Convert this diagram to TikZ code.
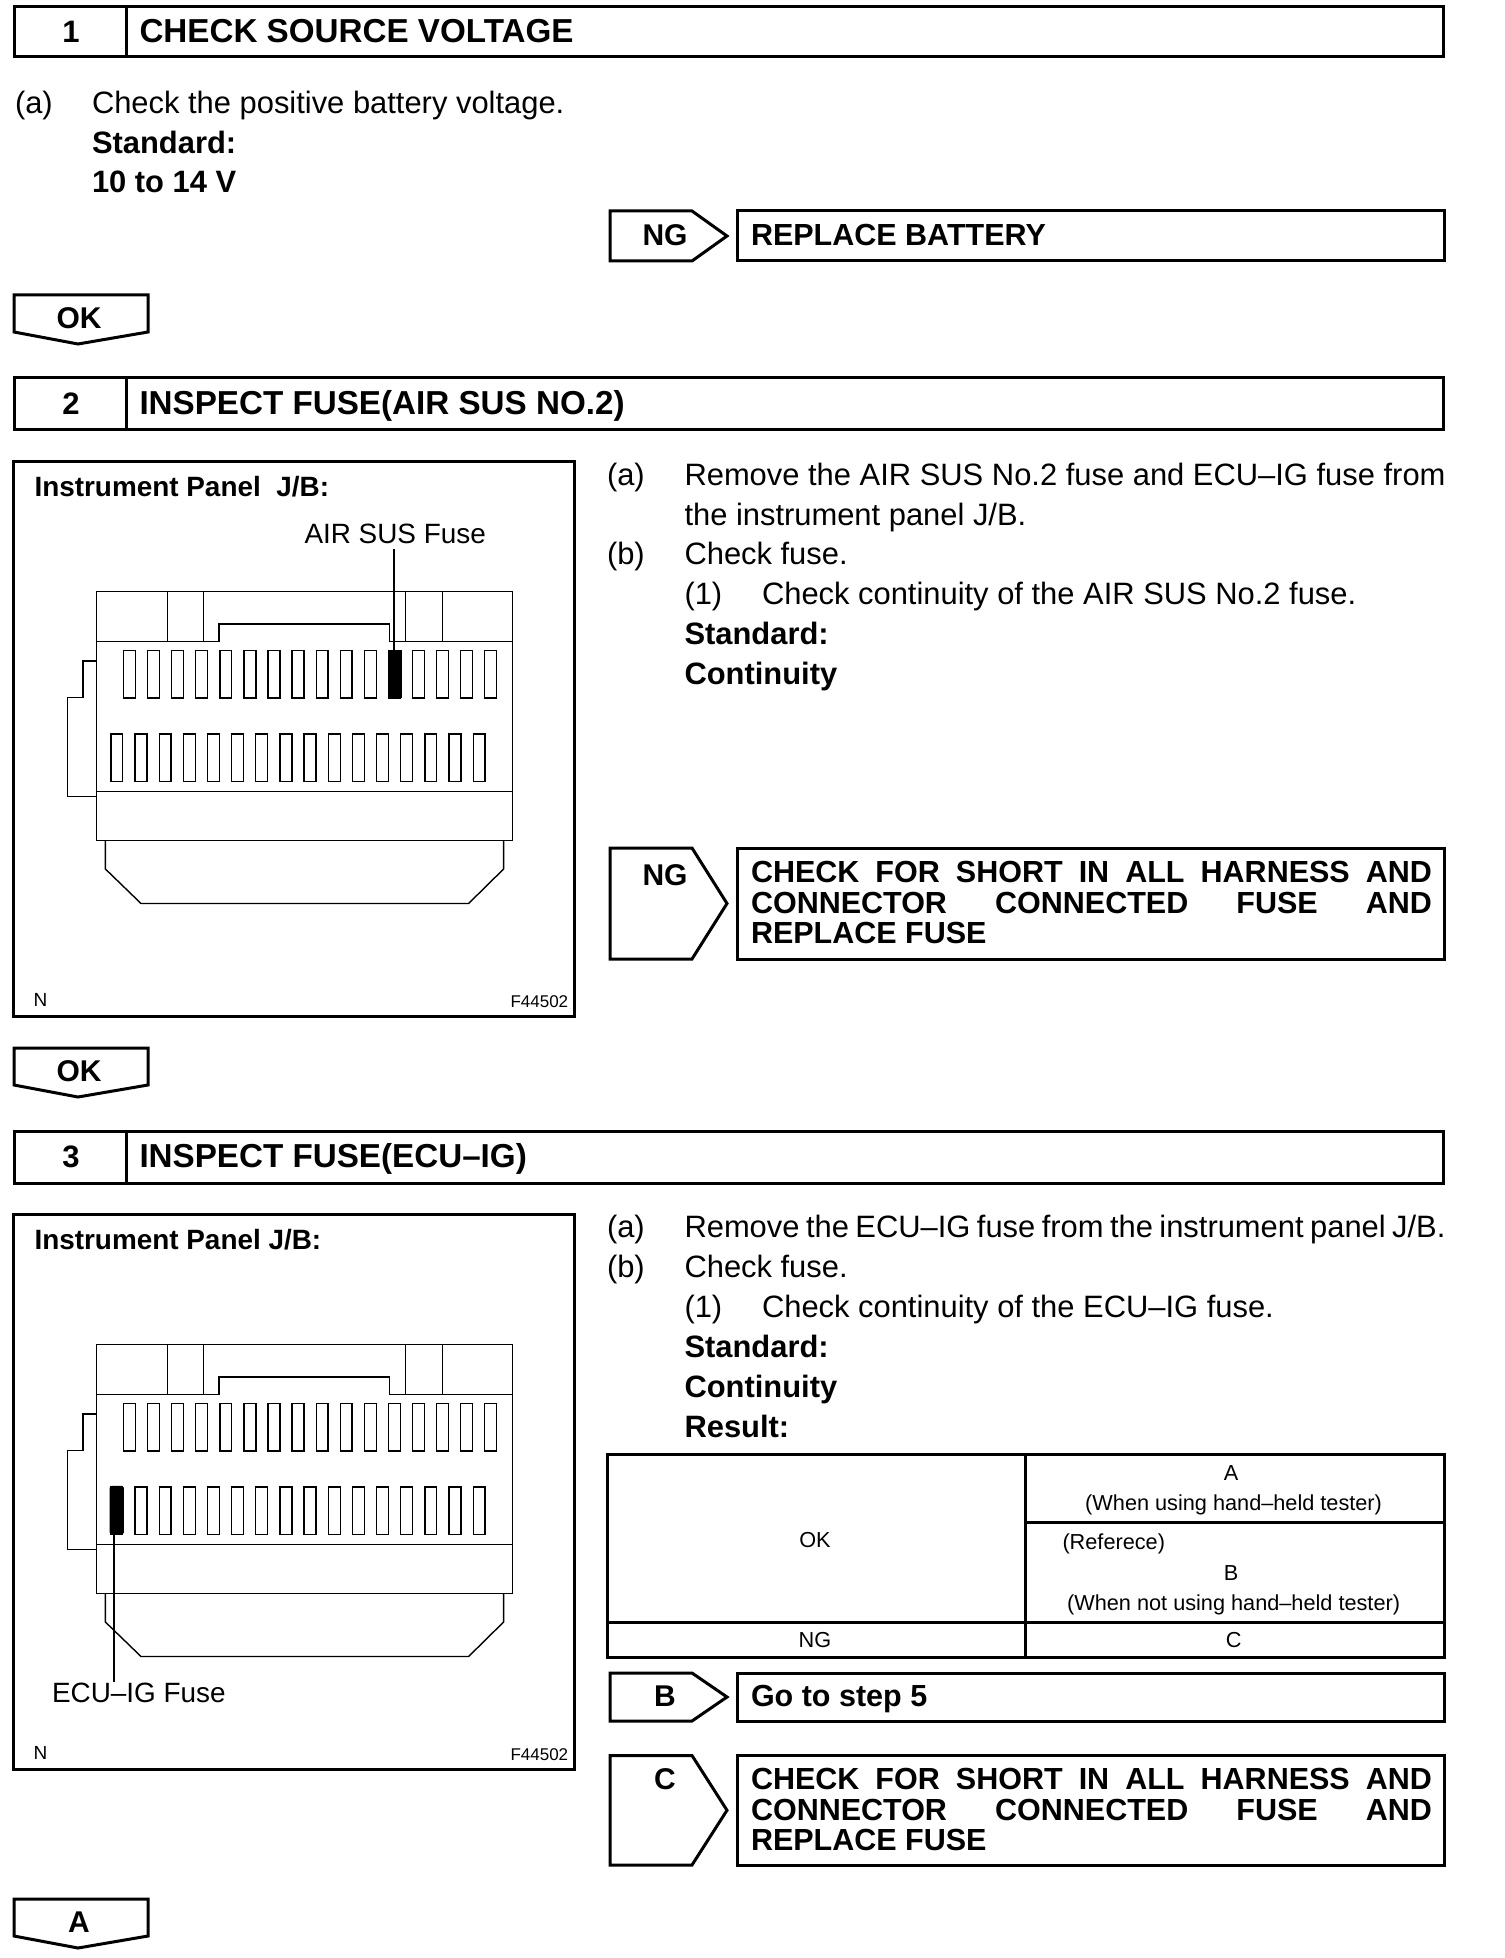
\documentclass[tikz,border=0pt]{standalone}
\usepackage{fontspec}
\setmainfont{Liberation Sans}
\newcommand\fsz[1]{\fontsize{#1pt}{#1pt}\selectfont}
\tikzset{
  heavy/.style={draw=black,line width=3pt,line join=miter},
  thin line/.style={draw=black,line width=1.4pt},
  fusebox/.style={draw=black,line width=1.3pt,minimum width=11.9pt,minimum height=47.3pt,inner sep=0pt,outer sep=0pt,anchor=north west},
  blackfuse/.style={fill=black,minimum width=13pt},
  lab/.style={inner sep=0pt,outer sep=0pt,anchor=base west,text=black},
  labc/.style={inner sep=0pt,outer sep=0pt,anchor=base,text=black},
  body/.style={lab,font=\fsz{30.9}},
  bbody/.style={lab,font=\fsz{30.9}\bfseries},
  head/.style={lab,font=\fsz{33.2}\bfseries},
  headnum/.style={labc,font=\fsz{31}\bfseries},
  tagtxt/.style={labc,font=\fsz{30}\bfseries},
  boxtxt/.style={lab,font=\fsz{30.5}\bfseries},
  cell/.style={labc,font=\fsz{21.7}},
  panelbold/.style={lab,font=\fsz{27.9}\bfseries},
  panellab/.style={lab,font=\fsz{27.9}},
  small/.style={lab,font=\fsz{19}},
  tiny/.style={lab,font=\fsz{17}},
}
% step header: name, top y, bottom y, number, title, baseline
\newcommand\stephead[6]{%
  \draw[heavy] (14,#2) rectangle (1443.5,#3);
  \draw[heavy] (126,#2) -- (126,#3);
  \node[headnum] (#1n) at (71,#6) {#4};
  \node[head] (#1t) at (139.5,#6) {#5};
}
% OK-type tag: name, top y, text
\newcommand\downtag[3]{%
  \draw[heavy] (14,#2) -- (148,#2) -- (148,#2+37) -- (78,#2+49) -- (14,#2+37) -- cycle;
  \node[tagtxt] (#1) at (79,#2+33) {#3};
}
% side tag: name, top, bottom, text, baseline
\newcommand\sidetag[5]{%
  \draw[heavy] (610,#2) -- (692,#2) -- (727,{(#2+#3)/2}) -- (692,#3) -- (610,#3) -- cycle;
  \draw[heavy] (737,#2) rectangle (1444,#3);
  \node[tagtxt] (#1) at (665,#5) {#4};
}
% three-line result box text
\newcommand\shortbox[2]{%
  \node[boxtxt] (#1a) at (751,#2+34) {\makebox[681pt][s]{CHECK FOR SHORT IN ALL HARNESS AND}};
  \node[boxtxt] (#1b) at (751,#2+65) {\makebox[681pt][s]{CONNECTOR CONNECTED FUSE AND}};
  \node[boxtxt] (#1c) at (751,#2+95) {REPLACE FUSE};
}
% panel drawing: prefix (in scope shifted for section)
\newcommand\panel[1]{%
  \draw[heavy] (13.5,461.5) rectangle (574.5,1016);
  \draw[thin line] (96.3,591.6) rectangle (512.6,840.4);
  \draw[thin line] (96.3,641.3) -- (219,641.3) -- (219,624) -- (389.5,624) -- (389.5,641.3) -- (512.6,641.3);
  \draw[thin line] (96.3,791.4) -- (512.6,791.4);
  \draw[thin line] (105.4,840.4) -- (105.4,869) -- (141,903.5) -- (468.6,903.5) -- (503.6,869) -- (503.6,840.4);
  \draw[thin line] (96.3,661) -- (82.8,661) -- (82.8,697.6) -- (67.7,697.6) -- (67.7,796.3) -- (96.3,796.3);
  \foreach \xx in {167.5,203.2,405.7,442.2} \draw[thin line] (\xx,591.6) -- (\xx,641.3);
  \foreach \i in {0,...,15} {
    \node[fusebox] (#1a\i) at ({123.6+24.07*\i},650.8) {};
    \node[fusebox] (#1b\i) at ({110.9+24.15*\i},734.1) {};
  }
  \node[small] (#1n) at (33.5,1006.5) {N};
  \node[tiny] (#1f) at (510.5,1007) {F44502};
}
\begin{document}
\begin{tikzpicture}[x=1pt,y=-1pt]
\useasboundingbox (0,0) rectangle (1504,1958);
\fill[white] (0,0) rectangle (1504,1958);

% ---- step 1
\stephead{s1}{6.5}{57}{1}{CHECK SOURCE VOLTAGE}{43}
\node[body] (a1) at (15,114) {(a)};
\node[body] (a1t) at (92,114) {Check the positive battery voltage.};
\node[bbody] (a1s) at (92,154) {Standard:};
\node[bbody] (a1v) at (92,193) {10 to 14 V};
\sidetag{ng1}{211}{261}{NG}{246}
\node[boxtxt] (ng1t) at (751,246) {REPLACE BATTERY};
\downtag{ok1}{295}{OK}

% ---- step 2
\stephead{s2}{377}{429}{2}{INSPECT FUSE(AIR SUS NO.2)}{414}
\panel{p}
\node[panelbold] (pt) at (34.5,496) {Instrument Panel\ \ J/B:};
\node[panellab] (pl) at (304.5,543) {AIR SUS Fuse};
\node[fusebox,blackfuse] (pblk) at ({123+24.07*11+0.6},650.2) {};
\coordinate (plc) at (393.7,548.7);
\draw[black,line width=2.4pt] (plc) -- (plc |- pblk.north);
\node[body] (b1) at (607,485.5) {(a)};
\node[body] (b1t) at (684.5,485.5) {\makebox[761pt][s]{Remove the AIR SUS No.2 fuse and ECU–IG fuse from}};
\node[body] (b2t) at (684.5,525.5) {the instrument panel J/B.};
\node[body] (b3) at (607,564.5) {(b)};
\node[body] (b3t) at (684.5,564.5) {Check fuse.};
\node[body] (b4) at (684.5,604) {(1)};
\node[body] (b4t) at (762,604) {Check continuity of the AIR SUS No.2 fuse.};
\node[bbody] (b5) at (684.5,644) {Standard:};
\node[bbody] (b6) at (684.5,684) {Continuity};
\sidetag{ng2}{848}{959}{NG}{885}
\shortbox{sb2}{848}
\downtag{ok2}{1048}{OK}

% ---- step 3
\stephead{s3}{1131.5}{1183}{3}{INSPECT FUSE(ECU–IG)}{1167}
\begin{scope}[shift={(0,753)}]
\panel{q}
\node[panelbold] (qt) at (34.5,496) {Instrument Panel J/B:};
\node[fusebox,blackfuse,rounded corners=1.5pt] (qblk) at (110.3,733.5) {};
\end{scope}
\node[panellab] (ql) at (52,1702) {ECU–IG Fuse};
\coordinate (qlc) at (113.7,1682);
\draw[black,line width=2.4pt] (qlc |- qblk.south) -- (qlc);
\node[body] (c1) at (607,1237) {(a)};
\node[body] (c1t) at (684.5,1237) {\makebox[761pt][s]{Remove the ECU–IG fuse from the instrument panel J/B.}};
\node[body] (c2) at (607,1277) {(b)};
\node[body] (c2t) at (684.5,1277) {Check fuse.};
\node[body] (c3) at (684.5,1317) {(1)};
\node[body] (c3t) at (762,1317) {Check continuity of the ECU–IG fuse.};
\node[bbody] (c4) at (684.5,1357) {Standard:};
\node[bbody] (c5) at (684.5,1397) {Continuity};
\node[bbody] (c6) at (684.5,1437) {Result:};

% table
\draw[heavy] (607,1454.5) rectangle (1444,1657);
\draw[heavy] (1025.7,1454.5) -- (1025.7,1657);
\draw[heavy] (607,1622.3) -- (1444,1622.3);
\draw[heavy] (1025.7,1522.7) -- (1444,1522.7);
\node[cell] (ta) at (1231,1480) {A};
\node[cell] (tw) at (1233.6,1510.5) {(When using hand–held tester)};
\node[cell,anchor=base west] (tr) at (1062.5,1549) {(Referece)};
\node[cell] (tb) at (1231,1580) {B};
\node[cell] (tn) at (1233.6,1610) {(When not using hand–held tester)};
\node[cell] (tok) at (815,1547) {OK};
\node[cell] (tng) at (815,1647) {NG};
\node[cell] (tc) at (1233.6,1647) {C};

\sidetag{tagb}{1673}{1721}{B}{1706}
\node[boxtxt] (tagbt) at (751,1706) {Go to step 5};
\sidetag{tagc}{1755.5}{1865}{C}{1789}
\shortbox{sb3}{1755.5}
\downtag{ok3}{1899}{A}
\end{tikzpicture}
\end{document}
